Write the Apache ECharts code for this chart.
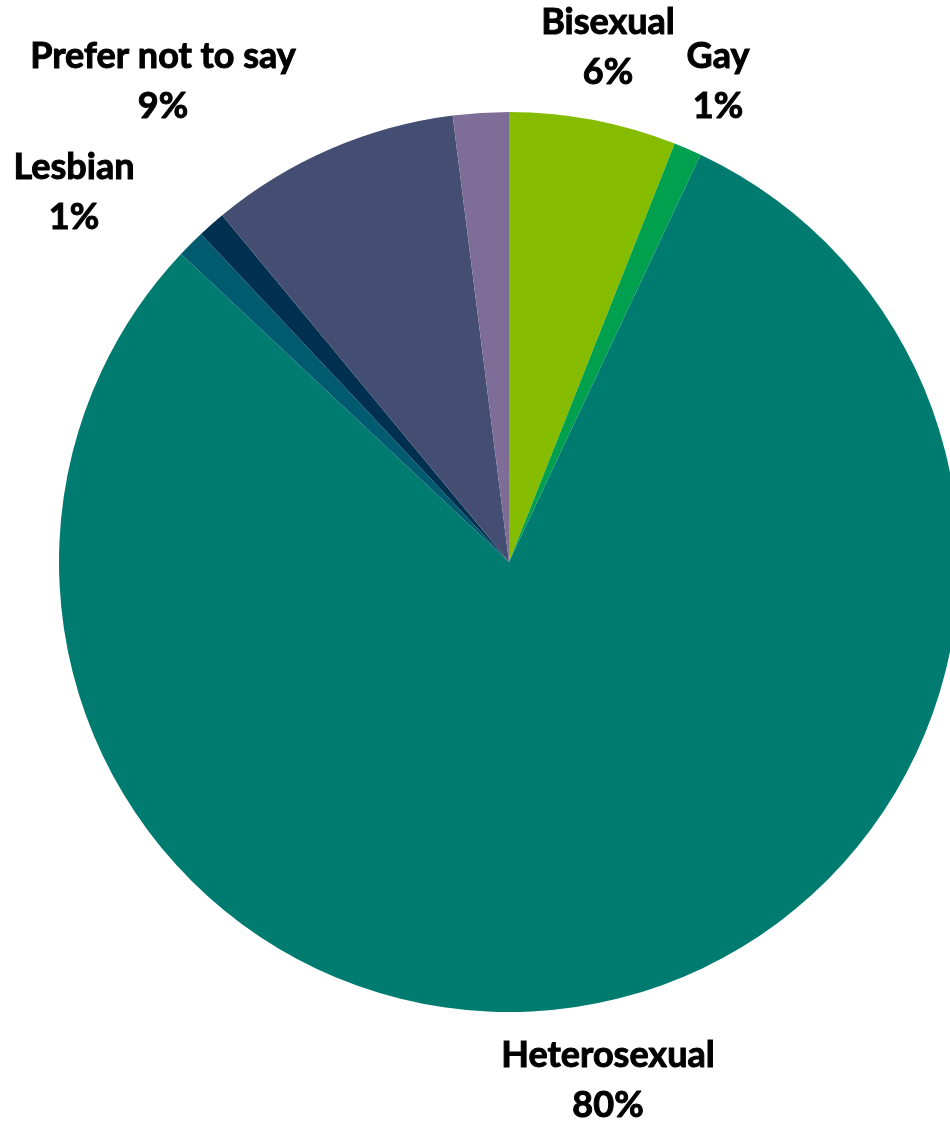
<!DOCTYPE html>
<html>
<head>
<meta charset="utf-8">
<script src="https://cdn.jsdelivr.net/npm/echarts@6/dist/echarts.min.js"></script>
<style>
  html, body { margin: 0; padding: 0; background: #fff; }
  #chart { width: 950px; height: 1122px; }
</style>
</head>
<body>
<div id="chart"></div>
<script>
// slices, clockwise from 12 o'clock
const categories = ['Bisexual', 'Gay', 'Heterosexual', 'Unlabelled A', 'Lesbian', 'Prefer not to say', 'Unlabelled B'];
const percents = [6, 1, 80, 1, 1, 9, 2];
const showLabel = [true, true, true, false, true, true, false];

const colors = ['#86bc00', '#00a04f', '#007b70', '#005a70', '#00304f', '#444d72', '#7e6d96'];
// label block centres (px)
const labelPos = {
  0: [608, 47],
  1: [718, 81],
  2: [608, 1080],
  4: [74, 192],
  5: [163, 81]
};

const chart = echarts.init(document.getElementById('chart'));
chart.setOption({
  animation: false,
  series: [{
    type: 'pie',
    center: [509, 562],
    radius: 450,
    startAngle: 90,
    clockwise: true,
    data: categories.map((name, i) => ({
      name: name,
      value: percents[i],
      itemStyle: { color: colors[i] },
      label: { show: showLabel[i] }
    })),
    itemStyle: { borderWidth: 0 },
    label: {
      position: 'outside',
      formatter: '{b}\n{c}%',
      fontFamily: 'Lato',
      fontWeight: 'bold',
      fontSize: 36,
      lineHeight: 50,
      color: '#000',
      textBorderColor: '#000',
      textBorderWidth: 1,
      align: 'center'
    },
    labelLine: { show: false },
    labelLayout: function (params) {
      const p = labelPos[params.dataIndex];
      if (!p) return {};
      return { x: p[0], y: p[1], align: 'center', verticalAlign: 'middle' };
    }
  }]
});
</script>
</body>
</html>
